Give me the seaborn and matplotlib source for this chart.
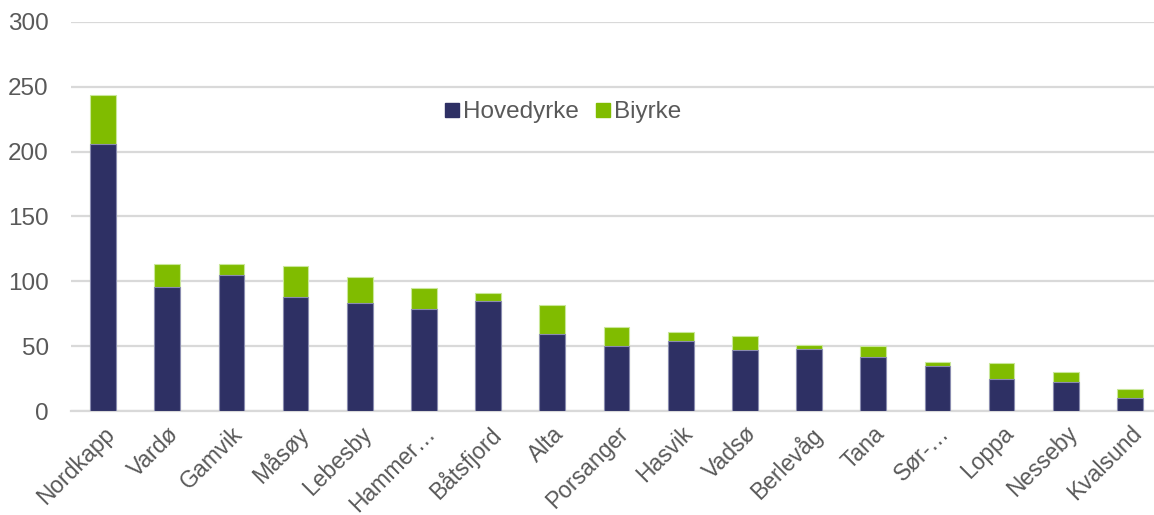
import matplotlib
matplotlib.use("Agg")
import matplotlib.pyplot as plt
import seaborn as sns
import pandas as pd
from matplotlib.lines import Line2D

kommuner = ["Nordkapp", "Vardø", "Gamvik", "Måsøy", "Lebesby", "Hammer…", "Båtsfjord",
            "Alta", "Porsanger", "Hasvik", "Vadsø", "Berlevåg", "Tana", "Sør-…",
            "Loppa", "Nesseby", "Kvalsund"]
hovedyrke = [206, 96, 105, 88, 83, 79, 85, 59, 50, 54, 47, 48, 42, 35, 25, 22, 10]
biyrke = [38, 17, 8, 24, 20, 16, 6, 23, 15, 7, 11, 3, 8, 3, 12, 8, 7]

navy = "#2E3064"
green = "#80BC00"
txt = "#595959"
grid = "#D9D9D9"

df = pd.DataFrame({"kommune": kommuner, "Hovedyrke": hovedyrke, "Biyrke": biyrke})
df["total"] = df["Hovedyrke"] + df["Biyrke"]

sns.set_theme(style="white")
plt.rcParams["font.family"] = ["Liberation Sans", "DejaVu Sans"]

fig = plt.figure(figsize=(11.54, 5.15), dpi=100)
ax = fig.add_axes([71 / 1154, 1 - 411 / 515, (1154 - 71) / 1154, 389 / 515])

sns.barplot(data=df, x="kommune", y="total", color=green, saturation=1, width=0.4,
            edgecolor="#c9e79a", linewidth=0.8, ax=ax, zorder=3)
sns.barplot(data=df, x="kommune", y="Hovedyrke", color=navy, saturation=1, width=0.4,
            edgecolor="#8a8cb0", linewidth=0.8, ax=ax, zorder=4)

ax.set_ylim(0, 300)
ax.set_yticks([0, 50, 100, 150, 200, 250, 300])
ax.set_xlim(-0.5, 16.5 - 8 / 64.2)
ax.yaxis.grid(True, color=grid, linewidth=1.6, zorder=0)
ax.set_axisbelow(True)
for s in ["top", "right", "left"]:
    ax.spines[s].set_visible(False)
ax.spines["bottom"].set_color(grid)
ax.spines["bottom"].set_linewidth(1.6)
ax.set_xlabel("")
ax.set_ylabel("")
ax.tick_params(axis="y", length=0, labelsize=17.5, labelcolor=txt, pad=16)
ax.tick_params(axis="x", length=0, labelsize=16.5, labelcolor=txt, pad=8)
for lab in ax.get_xticklabels():
    lab.set_rotation(45)
    lab.set_ha("right")
    lab.set_rotation_mode("anchor")

handles = [Line2D([], [], marker="s", linestyle="", markersize=9.5, color=navy, label="Hovedyrke"),
           Line2D([], [], marker="s", linestyle="", markersize=9.5, color=green, label="Biyrke")]
leg = ax.legend(handles=handles, loc="center", bbox_to_anchor=(0.454, 0.768), ncol=2,
                frameon=False, fontsize=17.5, handletextpad=0.1, columnspacing=0.65,
                handlelength=0.7)
for t in leg.get_texts():
    t.set_color(txt)

fig.savefig("out.png", dpi=100)
